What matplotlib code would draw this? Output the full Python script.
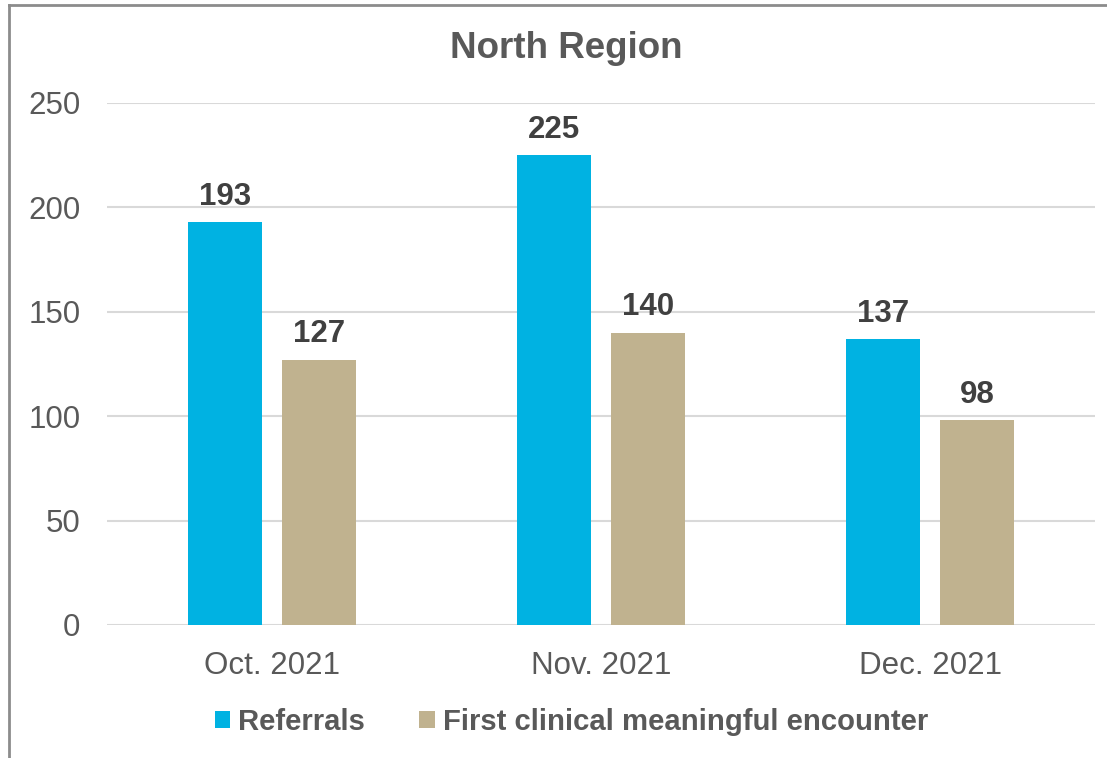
import matplotlib
matplotlib.use("Agg")
import matplotlib.pyplot as plt
import numpy as np
from matplotlib.patches import Patch
from matplotlib.lines import Line2D

plt.rcParams['font.family'] = ['Liberation Sans', 'DejaVu Sans']

categories = ["Oct. 2021", "Nov. 2021", "Dec. 2021"]
referrals = [193, 225, 137]
first_encounter = [127, 140, 98]
series_names = ["Referrals", "First clinical meaningful encounter"]
yticks = [0, 50, 100, 150, 200, 250]

blue = "#00B2E2"
tan = "#C0B28F"
text_gray = "#595959"
label_dark = "#404040"
grid_gray = "#D9D9D9"

fig = plt.figure(figsize=(11.07, 7.58), dpi=100)
ax = fig.add_axes([107 / 1107, 1 - 625 / 758, (1095 - 107) / 1107, (625 - 103) / 758])

x = np.arange(len(categories))
width = 0.225
gap = 0.06
off = (width + gap) / 2
b1 = ax.bar(x - off, referrals, width, color=blue, zorder=3)
b2 = ax.bar(x + off, first_encounter, width, color=tan, zorder=3)

for bars, vals in ((b1, referrals), (b2, first_encounter)):
    for rect, v in zip(bars, vals):
        ax.annotate(str(v), (rect.get_x() + rect.get_width() / 2, v),
                    xytext=(0, 7.5), textcoords="offset points",
                    ha="center", va="bottom", fontsize=22.5,
                    fontweight="bold", color=label_dark)

ax.set_xlim(-0.5, len(categories) - 0.5)
ax.set_ylim(0, 250)
ax.set_yticks(yticks)
ax.set_xticks(x)
ax.set_xticklabels(categories)
ax.yaxis.grid(True, color=grid_gray, linewidth=1.5, zorder=0)
ax.set_axisbelow(True)
for s in ax.spines.values():
    s.set_visible(False)
ax.tick_params(axis="both", length=0, labelsize=22.5, colors=text_gray)
ax.tick_params(axis="x", pad=18.5)
ax.tick_params(axis="y", pad=19)

fig.text(566 / 1107, 1 - 49 / 758, "North Region", ha="center", va="center",
         fontsize=26.5, fontweight="bold", color=text_gray)

handles = [Patch(facecolor=blue, edgecolor="none"),
           Patch(facecolor=tan, edgecolor="none")]
fig.legend(handles, series_names, loc="center", bbox_to_anchor=(571.5 / 1107, 1 - 722 / 758),
           ncol=2, frameon=False, handlelength=0.52, handleheight=0.52,
           handletextpad=0.27, columnspacing=1.85, borderpad=0, borderaxespad=0,
           prop={"size": 21.1, "weight": "bold"}, labelcolor=text_gray)

# Chart frame (left and top edges visible)
fig.add_artist(Line2D([9 / 1107, 9 / 1107], [0, 1 - 5 / 758], transform=fig.transFigure,
                      color="#8C8C8C", linewidth=2))
fig.add_artist(Line2D([9 / 1107, 1], [1 - 5 / 758, 1 - 5 / 758], transform=fig.transFigure,
                      color="#8C8C8C", linewidth=2))

fig.savefig("out.png", dpi=100)
